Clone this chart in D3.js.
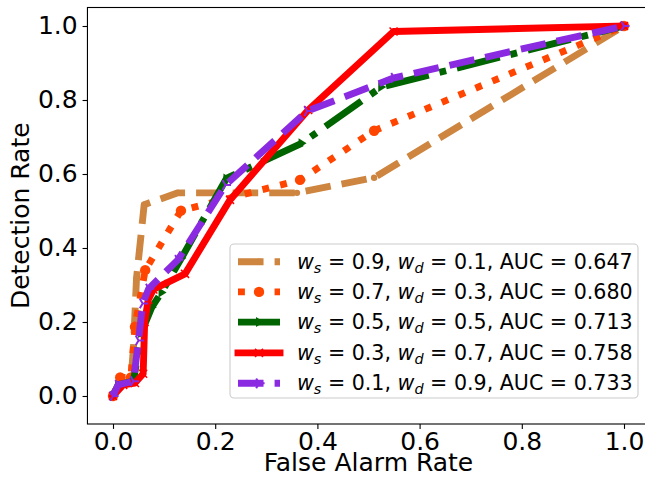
<!DOCTYPE html>
<html>
<head>
<meta charset="utf-8">
<script src="https://cdn.jsdelivr.net/npm/d3@7"></script>
<style>
  html, body { margin: 0; padding: 0; background: #fff; }
  svg { display: block; font-family: "DejaVu Sans", sans-serif; }
</style>
</head>
<body>
<svg id="chart" width="645" height="477"></svg>
<script>
// ---- data ----
const xTicks = [0.0, 0.2, 0.4, 0.6, 0.8, 1.0];
const yTicks = [0.0, 0.2, 0.4, 0.6, 0.8, 1.0];

const fa_ws09 = [0, 0.012, 0.035, 0.04, 0.046, 0.061, 0.127, 0.36, 0.511, 1];
const dr_ws09 = [0, 0.03, 0.04, 0.13, 0.318, 0.517, 0.549, 0.549, 0.59, 1];

const fa_ws07 = [0, 0.014, 0.035, 0.043, 0.063, 0.133, 0.366, 0.511, 1];
const dr_ws07 = [0, 0.05, 0.05, 0.187, 0.34, 0.501, 0.584, 0.717, 1];

const fa_ws05 = [0, 0.01, 0.04, 0.055, 0.076, 0.095, 0.134, 0.222, 0.369, 0.525, 1];
const dr_ws05 = [0, 0.03, 0.04, 0.17, 0.24, 0.28, 0.373, 0.588, 0.683, 0.835, 1];

const fa_ws03 = [0, 0.02, 0.043, 0.059, 0.062, 0.069, 0.079, 0.141, 0.229, 0.382, 0.549, 1];
const dr_ws03 = [0, 0.03, 0.035, 0.06, 0.2, 0.26, 0.288, 0.33, 0.53, 0.773, 0.985, 1];

const fa_ws01 = [0, 0.01, 0.04, 0.05, 0.058, 0.07, 0.127, 0.22, 0.38, 0.55, 1];
const dr_ws01 = [0, 0.03, 0.04, 0.15, 0.25, 0.29, 0.368, 0.57, 0.77, 0.86, 1];

const seriesWs = ["0.9", "0.7", "0.5", "0.3", "0.1"];
const seriesWd = ["0.1", "0.3", "0.5", "0.7", "0.9"];
const seriesAuc = ["0.647", "0.680", "0.713", "0.758", "0.733"];

// ---- styles ----
const LW = 6.9;
const styles = [
  { color: "#CD853F", width: LW, dash: `${3.7 * LW},${1.6 * LW}`, marker: "dot" },
  { color: "#FF4500", width: LW, dash: `${1 * LW},${1.65 * LW}`, marker: "circle" },
  { color: "#006400", width: LW, dash: `${6.4 * LW},${1.6 * LW},${1 * LW},${1.6 * LW}`, marker: "triRight" },
  { color: "#FF0000", width: LW, dash: null, marker: "x" },
  { color: "#8A2BE2", width: LW, dash: `${3.7 * LW},${1.6 * LW}`, marker: "tri4" }
];

const series = [
  { fa: fa_ws09, dr: dr_ws09 },
  { fa: fa_ws07, dr: dr_ws07 },
  { fa: fa_ws05, dr: dr_ws05 },
  { fa: fa_ws03, dr: dr_ws03 },
  { fa: fa_ws01, dr: dr_ws01 }
].map((s, i) => ({
  points: s.fa.map((f, k) => [f, s.dr[k]]),
  ws: seriesWs[i], wd: seriesWd[i], auc: seriesAuc[i], style: styles[i]
}));

// ---- layout ----
const svg = d3.select("#chart");
const pLeft = 87.45, pRight = 649.55, pTop = 7.5, pBottom = 424;
const x = d3.scaleLinear().domain([-0.05, 1.05]).range([pLeft, pRight]);
const y = d3.scaleLinear().domain([-0.0757, 1.05]).range([pBottom, pTop]);

svg.append("defs").append("clipPath").attr("id", "clip")
  .append("rect").attr("x", pLeft).attr("y", pTop)
  .attr("width", pRight - pLeft).attr("height", pBottom - pTop);

const plot = svg.append("g").attr("clip-path", "url(#clip)");

function drawMarker(g, type, color, cx, cy) {
  if (type === "dot") {
    g.append("circle").attr("cx", cx).attr("cy", cy).attr("r", 3.2).attr("fill", color);
  } else if (type === "circle") {
    g.append("circle").attr("cx", cx).attr("cy", cy).attr("r", 5.2).attr("fill", color);
  } else if (type === "triRight") {
    const s = 5;
    g.append("path")
      .attr("d", `M${cx + s},${cy} L${cx - s * 0.6},${cy - s} L${cx - s * 0.6},${cy + s} Z`)
      .attr("fill", color);
  } else if (type === "x") {
    const s = 4;
    g.append("path")
      .attr("d", `M${cx - s},${cy - s} L${cx + s},${cy + s} M${cx - s},${cy + s} L${cx + s},${cy - s}`)
      .attr("stroke", color).attr("stroke-width", 1.5).attr("fill", "none");
  } else if (type === "tri4") {
    const s = 5.6;
    g.append("path")
      .attr("d", `M${cx},${cy} L${cx + s},${cy} M${cx},${cy} L${cx - s * 0.5},${cy - s * 0.866} M${cx},${cy} L${cx - s * 0.5},${cy + s * 0.866}`)
      .attr("stroke", color).attr("stroke-width", 2).attr("fill", "none");
  }
}

const line = d3.line().x(d => x(d[0])).y(d => y(d[1]));

series.forEach(s => {
  const st = s.style;
  const g = plot.append("g");
  g.append("path").datum(s.points)
    .attr("d", line)
    .attr("fill", "none")
    .attr("stroke", st.color)
    .attr("stroke-width", st.width)
    .attr("stroke-linejoin", "round")
    .attr("stroke-linecap", st.dash ? "butt" : "square")
    .attr("stroke-dasharray", st.dash);
  s.points.forEach(p => drawMarker(g, st.marker, st.color, x(p[0]), y(p[1])));
});

// ---- axes ----
const FS = 25;
const xAxis = d3.axisBottom(x).tickValues(xTicks).tickFormat(d3.format(".1f")).tickSizeOuter(0).tickSize(4.9).tickPadding(4.9);
const yAxis = d3.axisLeft(y).tickValues(yTicks).tickFormat(d3.format(".1f")).tickSizeOuter(0).tickSize(4.9).tickPadding(4.9);

const gx = svg.append("g").attr("transform", `translate(0,${pBottom})`).call(xAxis);
const gy = svg.append("g").attr("transform", `translate(${pLeft},0)`).call(yAxis);
[gx, gy].forEach(g => {
  g.select(".domain").remove();
  g.selectAll(".tick line").attr("stroke", "#000").attr("stroke-width", 1.1);
  g.selectAll(".tick text").attr("fill", "#000").attr("font-size", FS)
    .attr("font-family", "DejaVu Sans");
});
gx.selectAll(".tick text").attr("dy", "0.64em");

// frame
svg.append("rect").attr("x", pLeft).attr("y", pTop)
  .attr("width", pRight - pLeft).attr("height", pBottom - pTop)
  .attr("fill", "none").attr("stroke", "#000").attr("stroke-width", 1.1);

// axis labels
svg.append("text").attr("x", (pLeft + pRight) / 2).attr("y", 470.5)
  .attr("text-anchor", "middle").attr("font-size", FS).text("False Alarm Rate");
svg.append("text")
  .attr("transform", `translate(29,${(pTop + pBottom) / 2}) rotate(-90)`)
  .attr("text-anchor", "middle").attr("font-size", FS).text("Detection Rate");

// ---- legend ----
const lg = svg.append("g");
const lx = 230, ly = 244, lw = 408, lh = 154;
lg.append("rect").attr("x", lx).attr("y", ly).attr("width", lw).attr("height", lh)
  .attr("rx", 4).attr("ry", 4)
  .attr("fill", "#fff").attr("fill-opacity", 0.8)
  .attr("stroke", "#cccccc").attr("stroke-width", 1.1);

const LFS = 20.6;
const rowY = [261.7, 291.9, 322.1, 352.9, 383.3];
series.forEach((s, i) => {
  const st = s.style;
  const cy = rowY[i];
  const g = lg.append("g");
  g.append("line").attr("x1", 238).attr("x2", 280).attr("y1", cy).attr("y2", cy)
    .attr("stroke", st.color).attr("stroke-width", st.width)
    .attr("stroke-dasharray", st.dash)
    .attr("stroke-linecap", st.dash ? "butt" : "square");
  drawMarker(g, st.marker, st.color, 259, cy);
  const t = g.append("text").attr("x", 297).attr("y", cy + 7).attr("font-size", LFS).attr("fill", "#000");
  t.append("tspan").attr("font-style", "italic").text("w");
  t.append("tspan").attr("font-size", LFS * 0.7).attr("dy", 4).attr("font-style", "italic").text("s");
  t.append("tspan").attr("dy", -4).text(` = ${s.ws}, `);
  t.append("tspan").attr("font-style", "italic").text("w");
  t.append("tspan").attr("font-size", LFS * 0.7).attr("dy", 4).attr("font-style", "italic").text("d");
  t.append("tspan").attr("dy", -4).text(` = ${s.wd}, AUC = ${s.auc}`);
});
</script>
</body>
</html>
